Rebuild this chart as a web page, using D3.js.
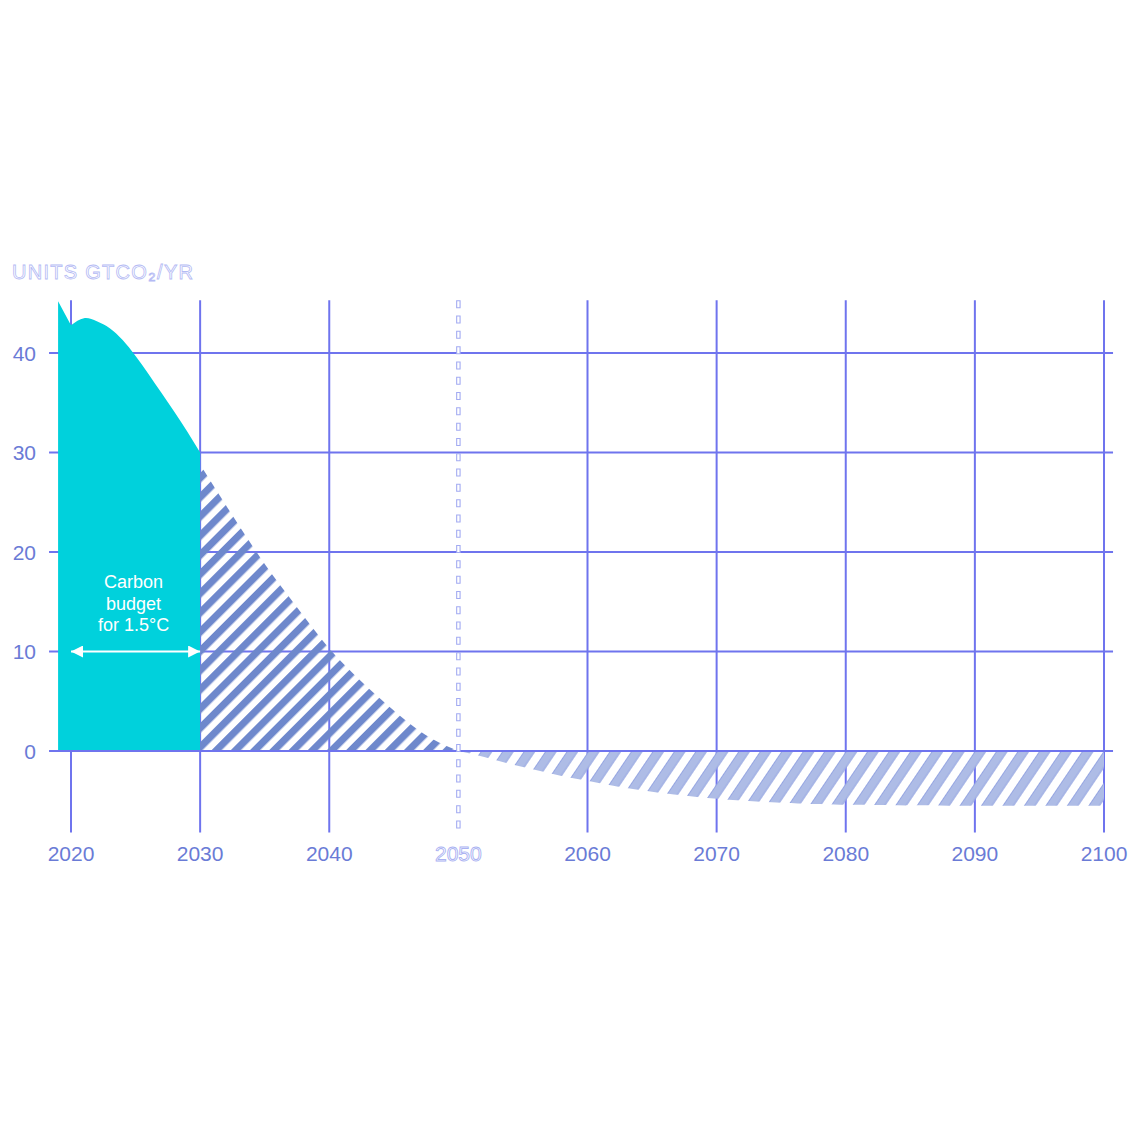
<!DOCTYPE html>
<html>
<head>
<meta charset="utf-8">
<script src="https://cdn.jsdelivr.net/npm/d3@7"></script>
<style>
  html, body { margin: 0; padding: 0; background: #ffffff; }
  svg { display: block; }
</style>
</head>
<body>
<svg id="chart" width="1140" height="1140"></svg>
<script>
// ---------------- DATA ----------------
const tealYears   = [2019, 2020, 2021, 2022, 2023, 2024, 2025, 2026, 2027, 2028, 2029, 2030];
const tealValues  = [45.2, 42.8, 43.5, 43.2, 42.5, 41.3, 39.7, 37.9, 36.0, 34.1, 32.1, 30.0];

const hatchYears  = [2030, 2032, 2034, 2036, 2038, 2040, 2042, 2044, 2046, 2048, 2050];
const hatchValues = [28.8, 24.7, 20.7, 17.0, 13.6, 10.3, 7.6, 5.2, 3.0, 1.2, 0.0];

const negYears    = [2050, 2052, 2054, 2056, 2058, 2060, 2062, 2065, 2070, 2075, 2080, 2090, 2100];
const negValues   = [0.0, -0.6, -1.3, -1.9, -2.5, -3.0, -3.5, -4.1, -4.8, -5.2, -5.4, -5.5, -5.5];

const xTicks = [2020, 2030, 2040, 2050, 2060, 2070, 2080, 2090, 2100];
const yTicks = [0, 10, 20, 30, 40];
const netZeroYear = 2050;
const budgetFrom = 2020, budgetTo = 2030, budgetLevel = 10;
const unitsLabel = "UNITS GTCO\u2082/YR";
const budgetLines = ["Carbon", "budget", "for 1.5\u00B0C"];
const gridTop = 45.3, gridBottom = -8.2, gridLeftYear = 2018.3, gridRightYear = 2100.7;

// ---------------- SETUP ----------------
const svg = d3.select("#chart");
const x = d3.scaleLinear().domain([2020, 2100]).range([71, 1104]);
const y = d3.scaleLinear().domain([0, 40]).range([751, 353]);

const gridColor = "#6f74ee";
const labelColor = "#6a7bd6";
const teal = "#00d1dc";
const font = "'Liberation Sans', Arial, sans-serif";

const defs = svg.append("defs");
// dark hatch (positive)
const pA = defs.append("pattern").attr("id", "hatchA")
  .attr("patternUnits", "userSpaceOnUse").attr("width", 13.6).attr("height", 13.6)
  .attr("patternTransform", "rotate(45)");
pA.append("rect").attr("x", 0).attr("y", 0).attr("width", 7.2).attr("height", 13.6).attr("fill", "#6e88cc");
// light hatch (negative)
const pB = defs.append("pattern").attr("id", "hatchB")
  .attr("patternUnits", "userSpaceOnUse").attr("width", 17.8).attr("height", 17.8)
  .attr("patternTransform", "rotate(34)");
pB.append("rect").attr("x", 0).attr("y", 0).attr("width", 9.5).attr("height", 17.8).attr("fill", "#aebce6");
pB.append("line").attr("x1", 0.4).attr("x2", 0.4).attr("y1", 0).attr("y2", 17.8).attr("stroke", "#8d9ee0").attr("stroke-width", 0.8);
pB.append("line").attr("x1", 9.1).attr("x2", 9.1).attr("y1", 0).attr("y2", 17.8).attr("stroke", "#8d9ee0").attr("stroke-width", 0.8);

// arrow markers
const mk = (id, orient) => {
  defs.append("marker").attr("id", id).attr("viewBox", "0 0 12 12")
    .attr("refX", 12).attr("refY", 6).attr("markerWidth", 12).attr("markerHeight", 12)
    .attr("markerUnits", "userSpaceOnUse").attr("orient", orient)
    .append("path").attr("d", "M0,0 L12,6 L0,12 Z").attr("fill", "#ffffff");
};
mk("arrEnd", "auto");
mk("arrStart", "auto-start-reverse");

// ---------------- GRID ----------------
const grid = svg.append("g");
grid.selectAll("line.v").data(xTicks.filter(d => d !== netZeroYear)).enter().append("line")
  .attr("x1", d => x(d)).attr("x2", d => x(d))
  .attr("y1", y(gridTop)).attr("y2", y(gridBottom))
  .attr("stroke", gridColor).attr("stroke-width", 2);
grid.selectAll("line.h").data(yTicks.filter(d => d !== 0)).enter().append("line")
  .attr("x1", x(gridLeftYear)).attr("x2", x(gridRightYear))
  .attr("y1", d => y(d)).attr("y2", d => y(d))
  .attr("stroke", gridColor).attr("stroke-width", 2);

// ---------------- AREAS ----------------
const curve = d3.curveNatural;
const tealPts = tealYears.map((t, i) => [t, tealValues[i]]);
const smooth = d3.line().x(d => x(d[0])).y(d => y(d[1])).curve(curve)(tealPts.slice(1));
const tealPath = "M" + x(tealYears[0]) + "," + y(0) +
  "L" + x(tealYears[0]) + "," + y(tealValues[0]) +
  "L" + smooth.slice(1) +
  "L" + x(tealYears[tealYears.length - 1]) + "," + y(0) + "Z";
svg.append("path").attr("d", tealPath).attr("fill", teal);

const area = d3.area().x(d => x(d[0])).y0(y(0)).y1(d => y(d[1])).curve(curve);
svg.append("path").attr("d", area(hatchYears.map((t, i) => [t, hatchValues[i]])))
  .attr("fill", "url(#hatchA)");
svg.append("path").attr("d", area(negYears.map((t, i) => [t, negValues[i]])))
  .attr("fill", "url(#hatchB)");

// zero line on top
svg.append("line")
  .attr("x1", x(gridLeftYear)).attr("x2", x(gridRightYear))
  .attr("y1", y(0)).attr("y2", y(0))
  .attr("stroke", gridColor).attr("stroke-width", 2);

// dashed net-zero line (outlined dashes)
svg.append("line")
  .attr("x1", x(netZeroYear)).attr("x2", x(netZeroYear))
  .attr("y1", y(gridTop)).attr("y2", y(gridBottom))
  .attr("stroke", "#a3abf2").attr("stroke-width", 4.5)
  .attr("stroke-dasharray", "8 7.3");
svg.append("line")
  .attr("x1", x(netZeroYear)).attr("x2", x(netZeroYear))
  .attr("y1", y(gridTop)).attr("y2", y(gridBottom))
  .attr("stroke", "#ffffff").attr("stroke-width", 2.3)
  .attr("stroke-dasharray", "6 9.3").attr("stroke-dashoffset", -1);

// ---------------- LABELS ----------------
svg.selectAll("text.xl").data(xTicks).enter().append("text")
  .attr("x", d => x(d)).attr("y", 861)
  .attr("text-anchor", "middle")
  .attr("font-family", font).attr("font-size", 21)
  .attr("fill", d => d === netZeroYear ? "#ffffff" : labelColor)
  .attr("stroke", d => d === netZeroYear ? "#aab2f2" : "none")
  .attr("stroke-width", 0.9)
  .text(d => d);

svg.selectAll("text.yl").data(yTicks).enter().append("text")
  .attr("x", 36).attr("y", d => y(d) + 7.5)
  .attr("text-anchor", "end")
  .attr("font-family", font).attr("font-size", 21)
  .attr("fill", labelColor)
  .text(d => d);

svg.append("text")
  .attr("x", 12).attr("y", 279)
  .attr("font-family", font).attr("font-size", 20)
  .attr("textLength", 181).attr("lengthAdjust", "spacing")
  .attr("fill", "#ffffff").attr("stroke", "#b4baf4").attr("stroke-width", 0.8)
  .text(unitsLabel);

// ---------------- ANNOTATION ----------------
const midX = (x(budgetFrom) + x(budgetTo)) / 2 - 2;
svg.selectAll("text.ann").data(budgetLines).enter().append("text")
  .attr("x", midX).attr("y", (d, i) => 588 + i * 21.5)
  .attr("text-anchor", "middle")
  .attr("font-family", font).attr("font-size", 18)
  .attr("fill", "#ffffff")
  .text(d => d);

svg.append("line")
  .attr("x1", x(budgetFrom)).attr("x2", x(budgetTo))
  .attr("y1", y(budgetLevel)).attr("y2", y(budgetLevel))
  .attr("stroke", "#ffffff").attr("stroke-width", 2)
  .attr("marker-start", "url(#arrStart)").attr("marker-end", "url(#arrEnd)");
</script>
</body>
</html>
